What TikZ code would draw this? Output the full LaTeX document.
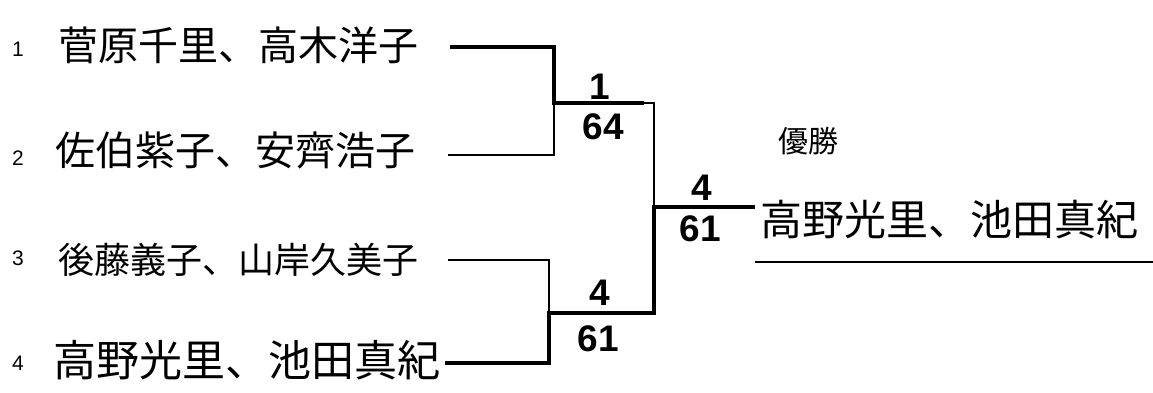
\documentclass[tikz,border=0pt]{standalone}
\usepackage{fontspec}
\setmainfont{Liberation Sans}
\newfontfamily\jpfont{Noto Sans CJK JP}
\usetikzlibrary{positioning}
\tikzset{
  seedno/.style={inner sep=0pt,font=\fontsize{21}{21}\selectfont},
  pairname/.style={anchor=west,inner sep=0pt,font=\jpfont\fontsize{40}{40}\selectfont},
  champname/.style={anchor=west,inner sep=0pt,font=\jpfont\fontsize{42}{42}\selectfont},
  titletext/.style={inner sep=0pt,font=\jpfont\fontsize{30}{30}\selectfont},
  scoretext/.style={inner sep=0pt,font=\bfseries\fontsize{37}{37}\selectfont},
  winline/.style={draw=black,line width=3.6pt},
  loseline/.style={draw=black,line width=1.3pt}
}

\begin{document}
\begin{tikzpicture}[x=1pt,y=-1pt]
  \useasboundingbox[fill=white] (0,0) rectangle (1153,393);
  % seeds and pairs
  \node[seedno] (n1) at (18,49) {1};
  \node[seedno] (n2) at (18,158) {2};
  \node[seedno] (n3) at (18,258) {3};
  \node[seedno] (n4) at (18,363) {4};
  \node[pairname] (p1) at (58,45) {菅原千里、高木洋子};
  \node[pairname] (p2) at (55,150) {佐伯紫子、安齊浩子};
  \node[pairname,font=\jpfont\fontsize{36}{36}\selectfont] (p3) at (58,260) {後藤義子、山岸久美子};
  \node[pairname,font=\jpfont\fontsize{43}{43}\selectfont] (p4) at (53,360) {高野光里、池田真紀};
  % bracket points
  \coordinate (s1) at (450,47);
  \coordinate (s2) at (448,155);
  \coordinate (s3) at (448,260);
  \coordinate (s4) at (445,363);
  \coordinate (j1) at (554,103);
  \coordinate (j2) at (549,313);
  \coordinate (jf) at (654,207);
  \coordinate (fin) at (755,207);
  % first round
  \draw[loseline] (s2) -| (j1);
  \draw[loseline] (j1) -| (jf);
  \draw[winline] (s1) -| (j1) -- ++(90,0);
  \draw[loseline] (s3) -| (j2);
  \draw[winline] (s4) -| (j2) -| (jf) -- (fin);
  % scores
  \node[scoretext] (a1) at (600,87) {1};
  \node[scoretext] (b1) at (603,127) {64};
  \node[scoretext] (a2) at (600,293) {4};
  \node[scoretext] (b2) at (598,339) {61};
  \node[scoretext] (af) at (702,188) {4};
  \node[scoretext] (bf) at (700,229) {61};
  % champion
  \node[titletext] (title) at (808,141) {優勝};
  \node[champname] (champ) at (760,220) {高野光里、池田真紀};
  \coordinate (u1) at (755,262);
  \coordinate (u2) at (1153,262);
  \draw[loseline] (u1) -- (u2);
\end{tikzpicture}
\end{document}
